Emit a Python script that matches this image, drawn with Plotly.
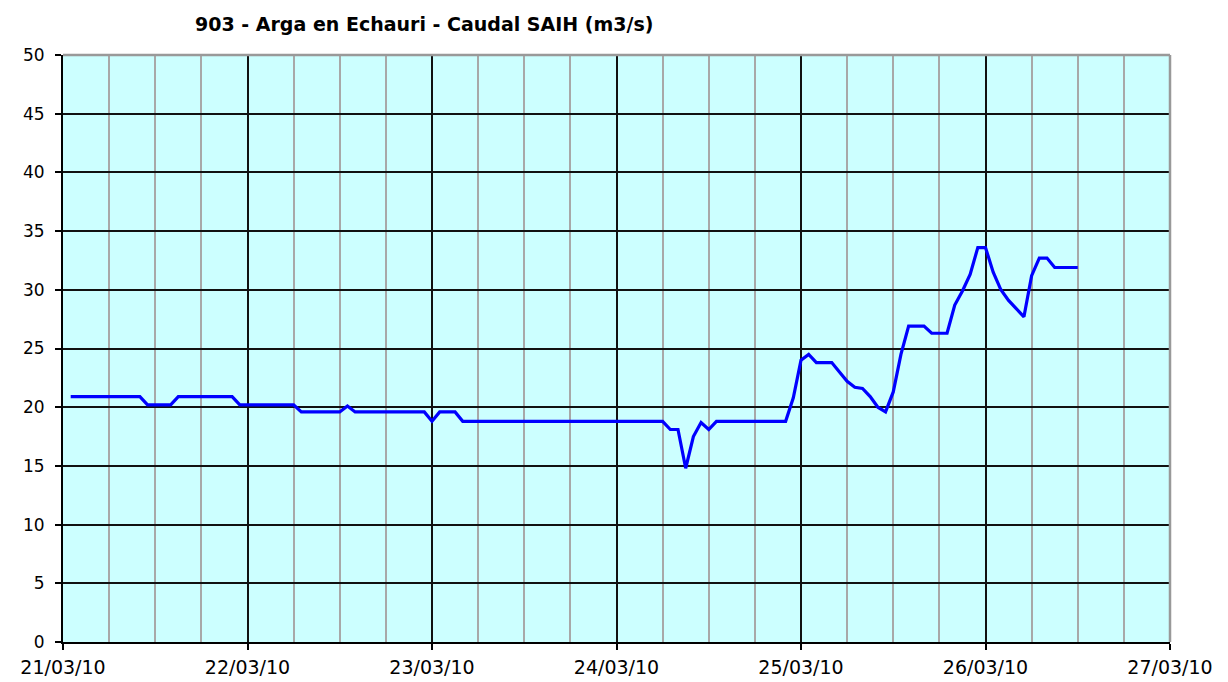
import pandas as pd
import plotly.graph_objects as go

title_text = "903 - Arga en Echauri - Caudal SAIH (m3/s)"
start_time = "2010-03-21 01:00"

# Hourly discharge values (m3/s), 21/03/10 01:00 -> 26/03/10 12:00
caudal = [
    20.9, 20.9, 20.9, 20.9, 20.9, 20.9, 20.9, 20.9, 20.9, 20.9,
    20.2, 20.2, 20.2, 20.2,
    20.9, 20.9, 20.9, 20.9, 20.9, 20.9, 20.9, 20.9,
    20.2, 20.2, 20.2, 20.2, 20.2, 20.2, 20.2, 20.2,
    19.6, 19.6, 19.6, 19.6, 19.6, 19.6,
    20.1,
    19.6, 19.6, 19.6, 19.6, 19.6, 19.6, 19.6, 19.6, 19.6, 19.6,
    18.8,
    19.6, 19.6, 19.6,
    18.8, 18.8, 18.8, 18.8, 18.8, 18.8, 18.8, 18.8, 18.8, 18.8,
    18.8, 18.8, 18.8, 18.8, 18.8, 18.8, 18.8, 18.8, 18.8, 18.8,
    18.8, 18.8, 18.8, 18.8, 18.8, 18.8, 18.8,
    18.1, 18.1,
    14.8, 17.5, 18.7, 18.1,
    18.8, 18.8, 18.8, 18.8, 18.8, 18.8, 18.8, 18.8, 18.8, 18.8,
    20.8, 24.0, 24.5, 23.8, 23.8, 23.8, 23.0, 22.2, 21.7, 21.6,
    20.9, 20.0, 19.6, 21.3, 24.5, 26.9, 26.9, 26.9, 26.3, 26.3,
    26.3, 28.7, 29.9, 31.3, 33.6, 33.6, 31.5, 30.0, 29.1, 28.4,
    27.7, 31.2, 32.7, 32.7, 31.9, 31.9, 31.9, 31.9,
]
times = pd.date_range(start_time, periods=len(caudal), freq="h")

x_range = ["2010-03-21", "2010-03-27"]
y_range = [0, 50]

# page body has an 8px margin: figure sits at (8, 8) in the window
W, H = 1220, 674
ML, MR, MT, MB = 55, 58, 47, 40

fig = go.Figure()
fig.add_trace(go.Scatter(
    x=times, y=caudal, mode="lines",
    line=dict(color="#0000FF", width=3.2),
    showlegend=False, hoverinfo="x+y",
))

fig.update_layout(
    width=W, height=H,
    margin=dict(l=ML, r=MR, t=MT, b=MB, autoexpand=False),
    paper_bgcolor="white",
    plot_bgcolor="#CCFFFF",
    font=dict(family="DejaVu Sans", color="black"),
    showlegend=False,
)

fig.update_xaxes(
    type="date", range=x_range,
    tickformat="%d/%m/%y", dtick=86400000, tick0="2010-03-21",
    showgrid=True, gridcolor="#111111", gridwidth=2,
    minor=dict(dtick=6 * 3600000, tick0="2010-03-21", showgrid=True,
               gridcolor="#A8A8A8", gridwidth=2),
    showline=True, linecolor="black", linewidth=2,
    ticks="outside", ticklen=6, tickcolor="black", tickwidth=1.5,
    tickfont=dict(family="DejaVu Sans", size=19, color="black"),
    ticklabelstandoff=1,
    zeroline=False,
)
fig.update_yaxes(
    range=y_range, dtick=5, tick0=0,
    showgrid=True, gridcolor="#111111", gridwidth=2,
    showline=True, linecolor="black", linewidth=2,
    ticks="outside", ticklen=6, tickcolor="black", tickwidth=1.5,
    tickfont=dict(family="DejaVu Sans", size=17, color="black"),
    ticklabelstandoff=7,
    zeroline=False,
)

# grey top and right border of plot area
fig.add_shape(type="line", xref="paper", yref="paper", x0=0, x1=1, y0=1, y1=1,
              line=dict(color="#999999", width=2.5), layer="above")
fig.add_shape(type="line", xref="paper", yref="paper", x0=1, x1=1, y0=0, y1=1,
              line=dict(color="#999999", width=2.5), layer="above")

fig.add_annotation(
    text="<b>" + title_text + "</b>", xref="paper", yref="paper",
    x=(424 - 8 - ML) / (W - ML - MR), y=1, yshift=31, yanchor="middle",
    xanchor="center", showarrow=False,
    font=dict(family="DejaVu Sans", size=19, color="black"),
)

fig.write_html("out.html")
